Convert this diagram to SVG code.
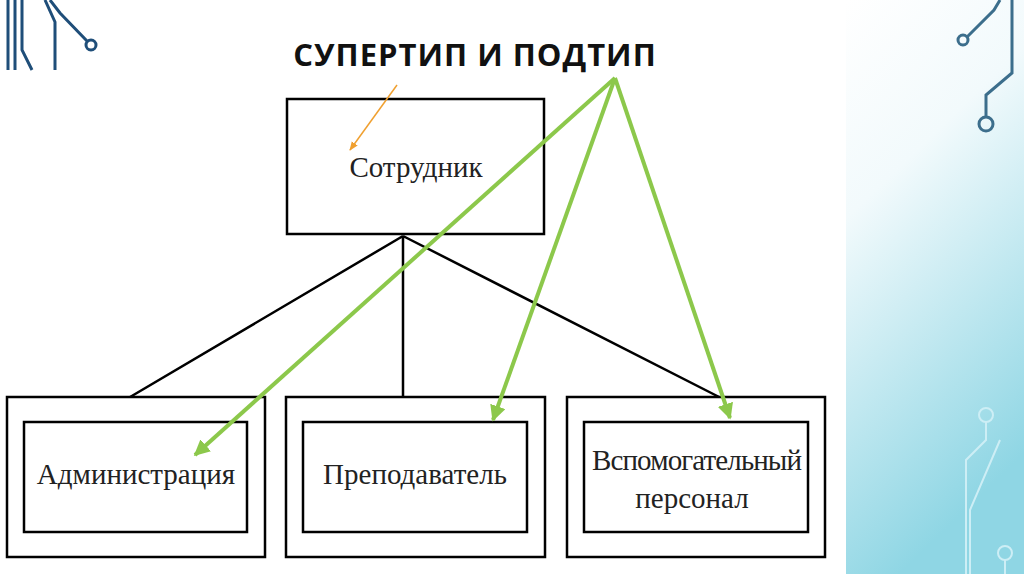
<svg xmlns="http://www.w3.org/2000/svg" width="1024" height="574" viewBox="0 0 1024 574">
<defs>
<linearGradient id="bg" x1="0" y1="0" x2="0.3" y2="1">
<stop offset="0" stop-color="#ffffff"/><stop offset="0.35" stop-color="#f2fafc"/><stop offset="1" stop-color="#8fd6e4"/>
</linearGradient>
<marker id="ga" viewBox="0 0 10 10" refX="9" refY="5" markerWidth="4" markerHeight="4" orient="auto"><path d="M0,0L10,5L0,10z" fill="#8cc84b"/></marker>
<marker id="oa" viewBox="0 0 10 10" refX="9" refY="5" markerWidth="6" markerHeight="6" orient="auto"><path d="M0,1L10,5L0,9z" fill="#f0a030"/></marker>
<style>
.dec{fill:none;stroke:#1f4e79;stroke-width:3}
.box{fill:#fff;stroke:#000;stroke-width:2.5}
.t{font-family:"Liberation Serif",serif;font-size:29px;fill:#222;text-anchor:middle}
.g{stroke:#8cc84b;stroke-width:4;fill:none;marker-end:url(#ga)}
</style>
</defs>
<rect width="1024" height="574" fill="#fff"/>
<rect x="846" y="0" width="178" height="574" fill="url(#bg)"/>
<g class="dec">
<path d="M8,0V70M15,0V70M22,0V50L32,70M45,0L55,22V70M50,0L60,13L87,41"/>
<circle cx="91" cy="45" r="5"/>
<path d="M1000,0L994,10L967,37" stroke="#3c6e8c"/>
<circle cx="963" cy="40" r="5" stroke="#3c6e8c"/>
<path d="M1012,0V73L986,95V117" stroke="#3c6e8c"/>
<circle cx="986" cy="124" r="7" stroke="#3c6e8c"/>
</g>
<g fill="none" stroke="#cdeef5" stroke-width="2">
<circle cx="986" cy="415" r="7"/><path d="M986,422V440L966,460V574M1000,440L970,510V574"/>
<circle cx="1005" cy="553" r="7"/><path d="M1005,560V574"/>
</g>
<text x="475" y="66" font-family="'Open Sans',sans-serif" font-weight="bold" font-size="31" letter-spacing="1" text-anchor="middle" fill="#111">СУПЕРТИП И ПОДТИП</text>
<g id="connectors" stroke="#000" stroke-width="2.5" fill="none">
<path d="M403,236L125,400M403,236V400M403,236L725,400"/>
</g>
<g id="n-sotrudnik"><rect class="box" x="287" y="99" width="257" height="135"/><text class="t" x="416" y="177">Сотрудник</text></g>
<g id="n-admin"><rect class="box" x="7" y="397" width="258" height="160"/><rect class="box" x="24" y="422" width="223" height="110"/><text class="t" x="136" y="484">Администрация</text></g>
<g id="n-prep"><rect class="box" x="286" y="397" width="259" height="160"/><rect class="box" x="303" y="422" width="224" height="110"/><text class="t" x="415" y="484">Преподаватель</text></g>
<g id="n-vsp"><rect class="box" x="567" y="397" width="258" height="160"/><rect class="box" x="584" y="422" width="224" height="110"/><text class="t" x="697" y="470" font-size="27" textLength="210">Вспомогательный</text><text class="t" x="692" y="508">персонал</text></g>
<g id="arrows">
<path class="g" d="M615,78L195,455"/>
<path class="g" d="M615,78L493,420"/>
<path class="g" d="M615,78L730,418"/>
<path d="M397,85L350,150" stroke="#f0a030" stroke-width="1.5" marker-end="url(#oa)"/>
</g>
</svg>
